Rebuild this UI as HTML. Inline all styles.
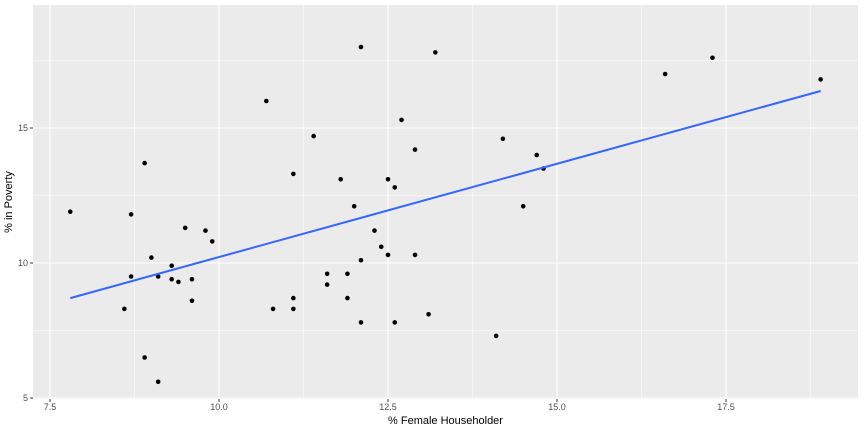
<!DOCTYPE html>
<html><head><meta charset="utf-8"><style>
body{margin:0;background:#fff;font-family:"Liberation Sans",sans-serif}
</style></head><body>
<svg id="chart" width="864" height="432" xmlns="http://www.w3.org/2000/svg"></svg>
<script>
const femaleHouse=[7.8,8.7,8.9,8.7,8.6,9.0,8.9,9.1,9.1,9.3,9.3,9.4,9.5,9.6,9.6,9.8,9.9,10.7,10.8,11.1,11.1,11.1,11.4,11.6,11.6,11.8,11.9,11.9,12.0,12.1,12.1,12.1,12.3,12.4,12.5,12.5,12.6,12.6,12.7,12.9,12.9,13.1,13.2,14.1,14.2,14.5,14.7,14.8,16.6,17.3,18.9];
const poverty=[11.9,11.8,13.7,9.5,8.3,10.2,6.5,5.6,9.5,9.9,9.4,9.3,11.3,9.4,8.6,11.2,10.8,16.0,8.3,13.3,8.7,8.3,14.7,9.6,9.2,13.1,9.6,8.7,12.1,18.0,10.1,7.8,11.2,10.6,13.1,10.3,12.8,7.8,15.3,14.2,10.3,8.1,17.8,7.3,14.6,12.1,14.0,13.5,17.0,17.6,16.8];
const xTicks=[7.5,10.0,12.5,15.0,17.5];
const yTicks=[5,10,15];
const NS="http://www.w3.org/2000/svg";
const svg=document.getElementById('chart');
const L=33,R=858,T=5,B=399;
const x=v=>50+(v-7.5)*67.6;
const y=v=>398-(v-5)*27;
function mk(tag,attrs,parent){const e=document.createElementNS(NS,tag);for(const k in attrs)e.setAttribute(k,attrs[k]);(parent||svg).appendChild(e);return e;}
const panel=mk('rect',{x:L,y:T,width:R-L,height:B-T,fill:'#EBEBEB'});


for(let i=0;i<xTicks.length+1;i++){const v=xTicks[0]-1.25+i*2.5;const px=x(v);if(px>L&&px<R){const g=mk('line',{x1:px,x2:px,y1:T,y2:B,stroke:'#fff','stroke-width':0.5});}}
for(let i=0;i<yTicks.length+1;i++){const v=yTicks[0]+2.5+i*5;const py=y(v);if(py>T&&py<B){const g=mk('line',{x1:L,x2:R,y1:py,y2:py,stroke:'#fff','stroke-width':0.5});}}
xTicks.forEach(v=>{const px=x(v);
const g=mk('line',{x1:px,x2:px,y1:T,y2:B,stroke:'#fff','stroke-width':1.1});
const tk=mk('line',{x1:px,x2:px,y1:B,y2:B+3,stroke:'#333','stroke-width':1});
const t=mk('text',{x:px,y:B+11,'text-anchor':'middle','font-size':9,fill:'#4d4d4d'});t.textContent=v.toFixed(1);});
yTicks.forEach(v=>{const py=y(v);
const g=mk('line',{x1:L,x2:R,y1:py,y2:py,stroke:'#fff','stroke-width':1.1});
const tk=mk('line',{x1:L-3,x2:L,y1:py,y2:py,stroke:'#333','stroke-width':1});
const t=mk('text',{x:L-5,y:py+3,'text-anchor':'end','font-size':9,fill:'#4d4d4d'});t.textContent=v;});
femaleHouse.forEach((v,i)=>{const c=mk('circle',{cx:x(v),cy:y(poverty[i]),r:2.3,fill:'#000'});});
const n=femaleHouse.length;const mx=femaleHouse.reduce((a,b)=>a+b)/n;const my=poverty.reduce((a,b)=>a+b)/n;
let sxy=0,sxx=0;for(let i=0;i<n;i++){sxy+=(femaleHouse[i]-mx)*(poverty[i]-my);sxx+=(femaleHouse[i]-mx)**2;}
const b1=sxy/sxx,b0=my-b1*mx;const x0=Math.min(...femaleHouse),x1=Math.max(...femaleHouse);
const ln=mk('line',{x1:x(x0),y1:y(b0+b1*x0),x2:x(x1),y2:y(b0+b1*x1),stroke:'#3366FF','stroke-width':2});


const xt=mk('text',{x:(L+R)/2,y:424,'text-anchor':'middle','font-size':11,fill:'#000'});xt.textContent='% Female Householder';


const yt=mk('text',{x:12,y:(T+B)/2,'text-anchor':'middle','font-size':11,fill:'#000',transform:`rotate(-90 12 ${(T+B)/2})`});yt.textContent='% in Poverty';


</script>
</body></html>
